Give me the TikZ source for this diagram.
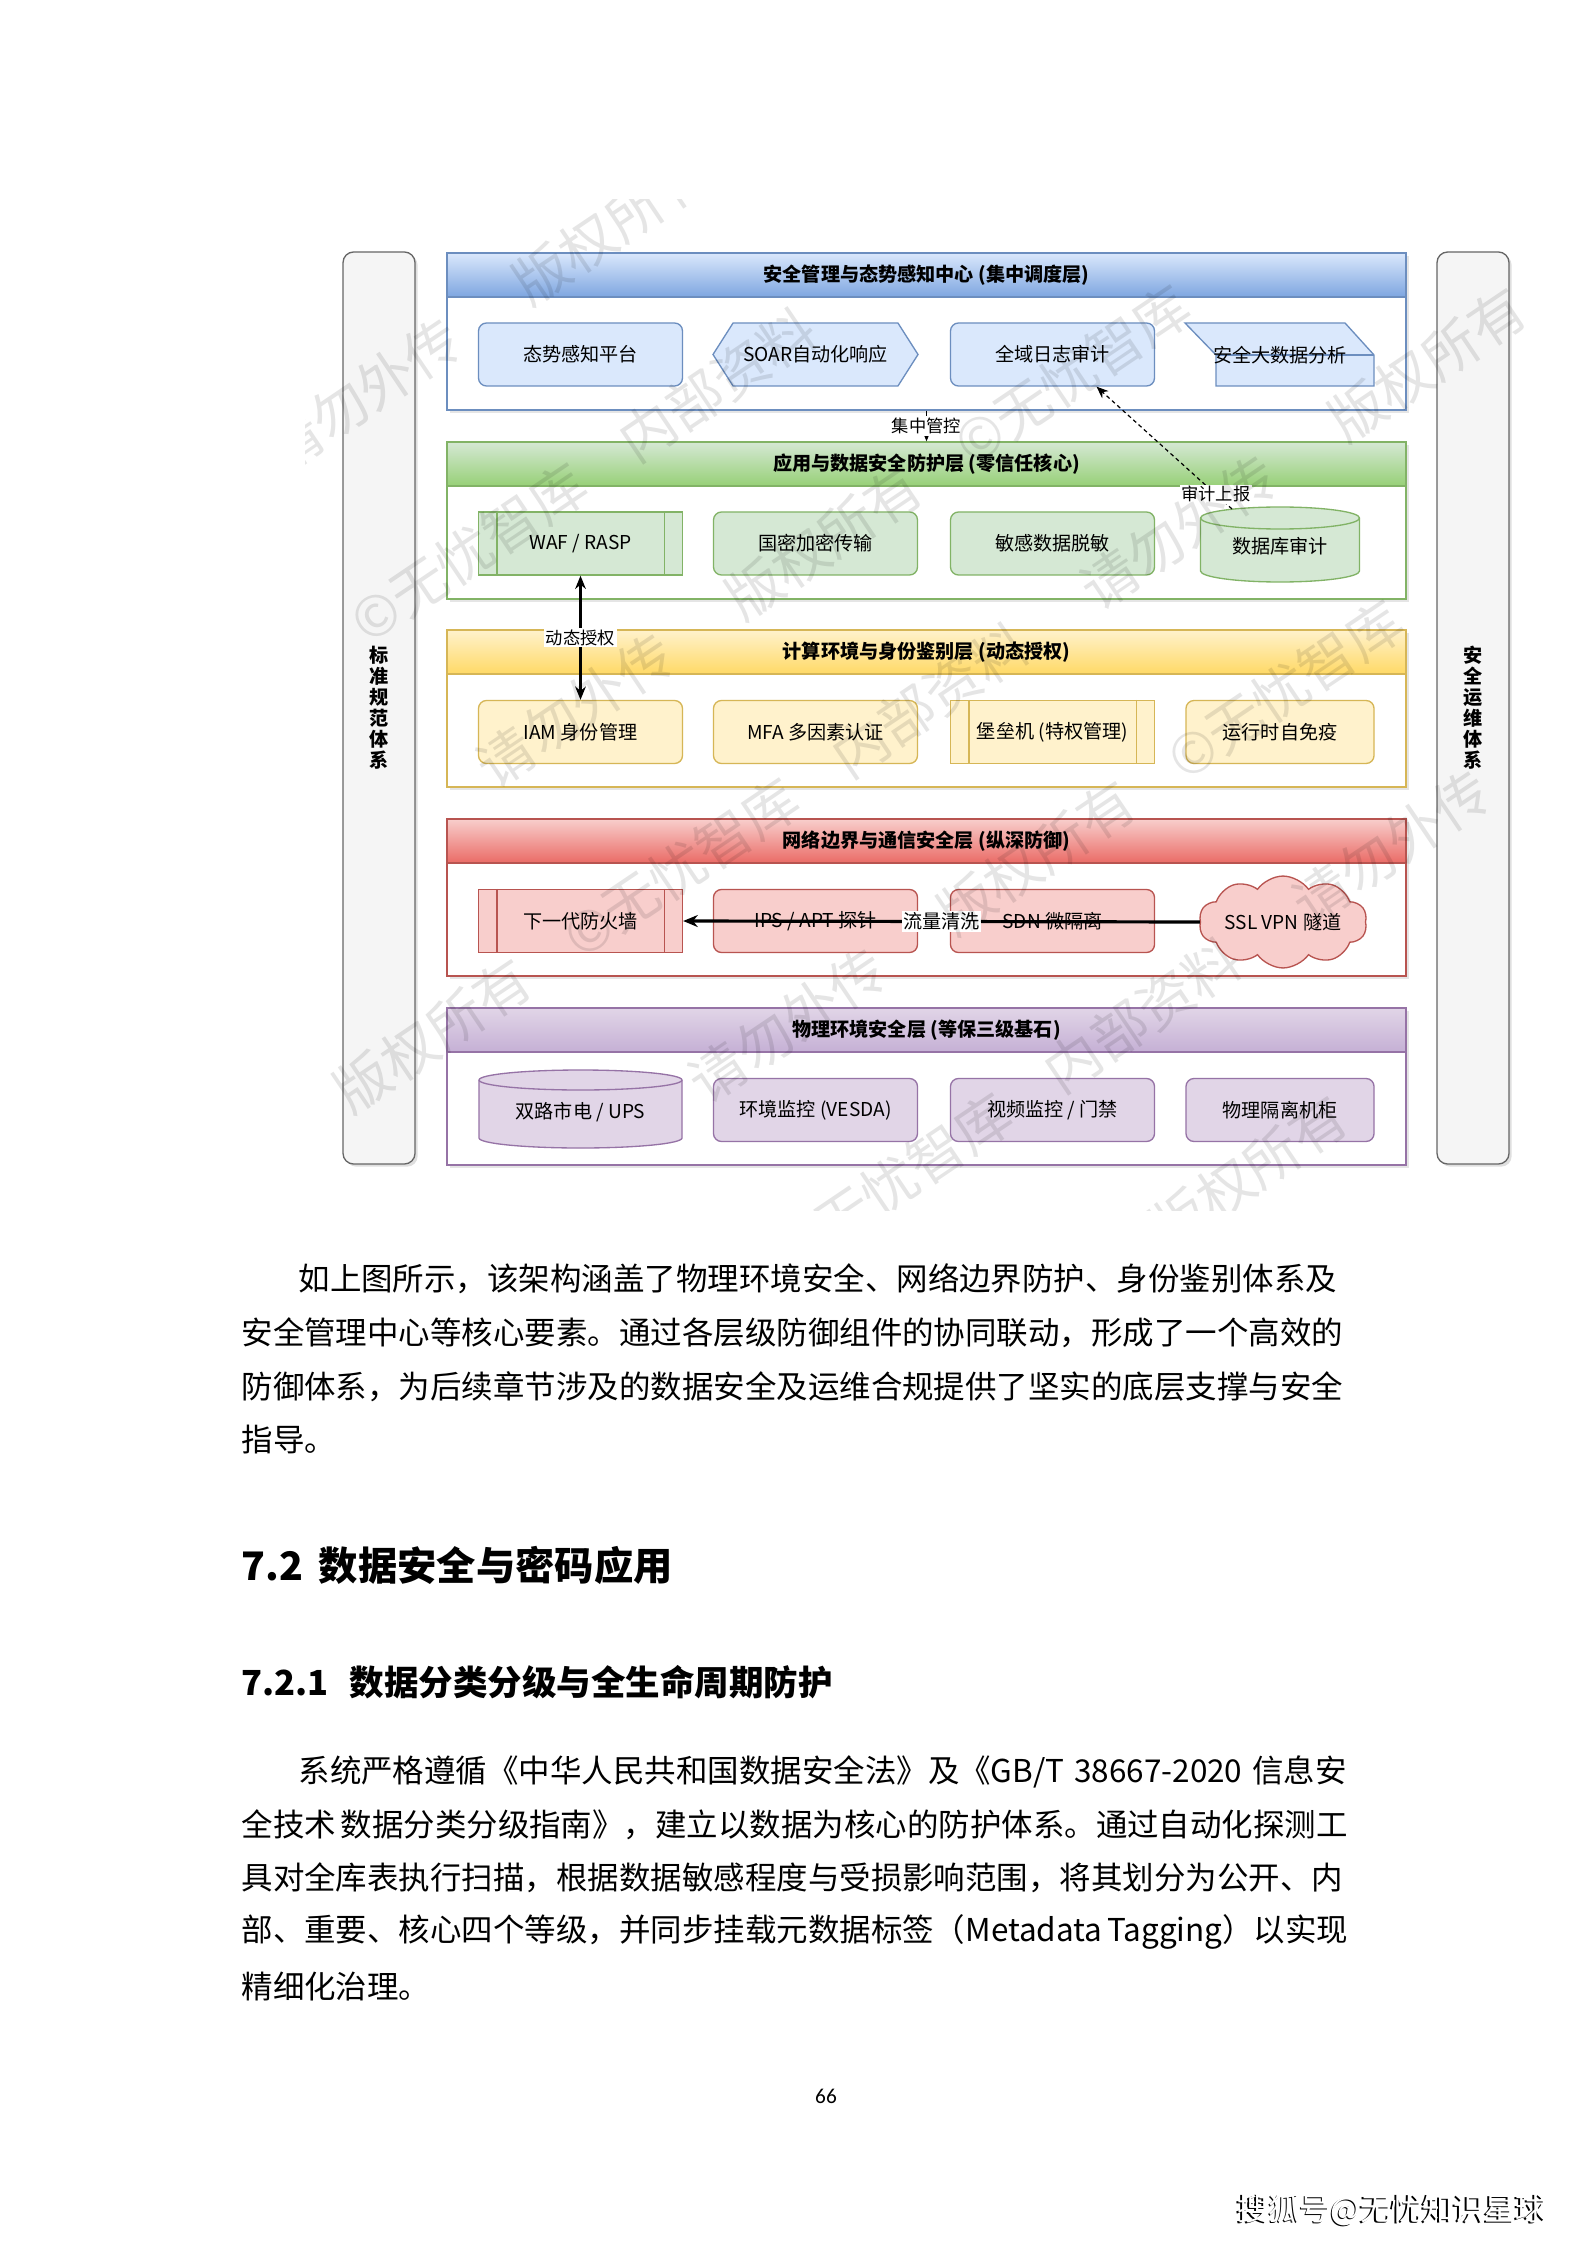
\documentclass[tikz,border=0pt]{standalone}
\usepackage{fontspec}
\setmainfont{Noto Sans CJK SC}
\newfontfamily\pagenofont{Carlito}
\usepackage{tikz}
\usetikzlibrary{arrows.meta, calc, positioning, shapes.symbols, shadows}
\XeTeXlinebreaklocale "zh"
\XeTeXlinebreakskip=0pt plus 3pt minus 0.4pt

% one pixel of the page
\newcommand\pxu{*0.3765pt}
\newcommand\boxfont{\fontsize{7.2}{8.6}\selectfont}
\newcommand\headfont{\fontsize{7.2}{8.6}\selectfont\bfseries}
\newcommand\tagfont{\fontsize{6.5}{7.6}\selectfont}
\newcommand\barfont{\fontsize{7.2}{7.9}\selectfont\bfseries}
\newcommand\bodyfont{\fontsize{11.85}{14}\selectfont}

\definecolor{blueFill}{HTML}{DAE8FC}
\definecolor{blueGrad}{HTML}{7EA6E0}
\definecolor{blueLine}{HTML}{6C8EBF}
\definecolor{greenFill}{HTML}{D5E8D4}
\definecolor{greenGrad}{HTML}{97D077}
\definecolor{greenLine}{HTML}{82B366}
\definecolor{yellowFill}{HTML}{FFF2CC}
\definecolor{yellowGrad}{HTML}{FFD966}
\definecolor{yellowLine}{HTML}{D6B656}
\definecolor{redFill}{HTML}{F8CECC}
\definecolor{redGrad}{HTML}{EA6B66}
\definecolor{redLine}{HTML}{B85450}
\definecolor{purpleFill}{HTML}{E1D5E7}
\definecolor{purpleGrad}{HTML}{C5B0D5}
\definecolor{purpleLine}{HTML}{9673A6}
\definecolor{barFill}{HTML}{F5F5F5}
\definecolor{barLine}{HTML}{666666}

\tikzset{
  layerbody/.style={draw=#1, fill=white, line width=0.5pt, inner sep=0pt,
    minimum width=959\pxu, minimum height=157\pxu,
    drop shadow={opacity=0.2, shadow xshift=1pt, shadow yshift=-1pt}},
  layerhead/.style n args={3}{top color=#1, bottom color=#2, draw=#3, line width=0.5pt,
    inner sep=0pt, minimum width=959\pxu, minimum height=44\pxu, font=\headfont},
  partbox/.style n args={2}{fill=#1, draw=#2, line width=0.5pt, inner sep=0pt,
    minimum width=204\pxu, minimum height=63\pxu, font=\boxfont},
  roundbox/.style n args={2}{partbox={#1}{#2}, rounded corners=3pt},
  textonly/.style={inner sep=0pt, font=\boxfont},
  sidebar/.style={fill=barFill, draw=barLine, line width=0.5pt, rounded corners=4pt,
    minimum width=72\pxu, minimum height=912\pxu, align=center, font=\barfont,
    drop shadow={opacity=0.25, shadow xshift=1pt, shadow yshift=-1pt}},
  edgetag/.style={fill=white, inner sep=0.6pt, font=\tagfont},
  watermark/.style={rotate=34, inner sep=0pt, text=black, opacity=0.1, font=\fontsize{21}{24}\selectfont}
}

% cylinder: centre x, top, bottom, x radius, y radius, fill, line
\newcommand\drawdrum[7]{%
  \draw[fill=#6, draw=#7, line width=0.5pt] (#1-#4,#2+#5) -- (#1-#4,#3-#5)
    arc[start angle=180, end angle=0, x radius=#4, y radius=#5] -- (#1+#4,#2+#5)
    arc[start angle=0, end angle=-180, x radius=#4, y radius=#5] -- cycle;
  \draw[draw=#7, line width=0.5pt] (#1-#4,#2+#5)
    arc[start angle=180, end angle=0, x radius=#4, y radius=#5];
}
% one justified line of body text
\newcommand\textline[4]{\node[anchor=west, inner sep=0pt, font=\bodyfont] (#1) at (#2) {\hbox to #3{#4}};}

\begin{document}
\begin{tikzpicture}[x=0.3765pt, y=-0.3765pt]
  \fill[white] (0,0) rectangle (1587,2245);
  \useasboundingbox (0,0) rectangle (1587,2245);

  % side bars
  \node[sidebar] (stdbar) at (379,708) {标\\准\\规\\范\\体\\系};
  \node[sidebar] (opsbar) at (1473,708) {安\\全\\运\\维\\体\\系};

  % layer frames
  \node[layerbody=blueLine]   (mgmt) at (926.5,331.5) {};
  \node[layerbody=greenLine]  (app)  at (926.5,520.5) {};
  \node[layerbody=yellowLine] (comp) at (926.5,708.5) {};
  \node[layerbody=redLine]    (net)  at (926.5,897.5) {};
  \node[layerbody=purpleLine] (phys) at (926.5,1086.5) {};

  % layer headers
  \node[layerhead={blueFill}{blueGrad}{blueLine}]       (mgmtHead) at (926.5,275)  {安全管理与态势感知中心 (集中调度层)};
  \node[layerhead={greenFill}{greenGrad}{greenLine}]    (appHead)  at (926.5,464)  {应用与数据安全防护层 (零信任核心)};
  \node[layerhead={yellowFill}{yellowGrad}{yellowLine}] (compHead) at (926.5,652)  {计算环境与身份鉴别层 (动态授权)};
  \node[layerhead={redFill}{redGrad}{redLine}]          (netHead)  at (926.5,841)  {网络边界与通信安全层 (纵深防御)};
  \node[layerhead={purpleFill}{purpleGrad}{purpleLine}] (physHead) at (926.5,1030) {物理环境安全层 (等保三级基石)};

  % management layer
  \node[roundbox={blueFill}{blueLine}] (situation) at (580.5,354.5) {态势感知平台};
  \node[partbox={blueFill}{blueLine}, signal, signal to=east and west, signal pointer angle=115,
        minimum width=205\pxu] (soar) at (815.5,354.5) {SOAR自动化响应};
  \node[roundbox={blueFill}{blueLine}] (logaudit) at (1052.5,354.5) {全域日志审计};
  \draw[fill=blueFill, draw=blueLine, line width=0.5pt]
    (1185,323) -- (1345,323) -- (1374,355) -- (1374,386) -- (1216,386) -- (1216,355) -- cycle;
  \draw[draw=blueLine, line width=0.5pt] (1216,355) -- (1374,355);
  \node[textonly] (bigdata) at (1280,355) {安全大数据分析};

  % application and data layer
  \node[partbox={greenFill}{greenLine}] (waf) at (580.5,543.5) {WAF / RASP};
  \draw[greenLine, line width=0.5pt] ([xshift=19\pxu]waf.north west) -- ([xshift=19\pxu]waf.south west);
  \draw[greenLine, line width=0.5pt] ([xshift=-19\pxu]waf.north east) -- ([xshift=-19\pxu]waf.south east);
  \node[roundbox={greenFill}{greenLine}] (smcrypto) at (815.5,543.5) {国密加密传输};
  \node[roundbox={greenFill}{greenLine}] (masking) at (1052.5,543.5) {敏感数据脱敏};
  \drawdrum{1280}{507}{582}{79.5}{11}{greenFill}{greenLine}
  \node[textonly] (dbaudit) at (1280,546) {数据库审计};

  % computing and identity layer
  \node[roundbox={yellowFill}{yellowLine}] (iam) at (580.5,732) {IAM 身份管理};
  \node[roundbox={yellowFill}{yellowLine}] (mfa) at (815.5,732) {MFA 多因素认证};
  \node[partbox={yellowFill}{yellowLine}] (bastion) at (1052.5,732) {堡垒机 (特权管理)};
  \draw[yellowLine, line width=0.5pt] ([xshift=19\pxu]bastion.north west) -- ([xshift=19\pxu]bastion.south west);
  \draw[yellowLine, line width=0.5pt] ([xshift=-19\pxu]bastion.north east) -- ([xshift=-19\pxu]bastion.south east);
  \node[roundbox={yellowFill}{yellowLine}, minimum width=188\pxu] (immune) at (1280,732) {运行时自免疫};

  % network boundary layer
  \node[partbox={redFill}{redLine}] (ngfw) at (580.5,921) {下一代防火墙};
  \draw[redLine, line width=0.5pt] ([xshift=19\pxu]ngfw.north west) -- ([xshift=19\pxu]ngfw.south west);
  \draw[redLine, line width=0.5pt] ([xshift=-19\pxu]ngfw.north east) -- ([xshift=-19\pxu]ngfw.south east);
  \node[roundbox={redFill}{redLine}] (ips) at (815.5,921) {IPS / APT 探针};
  \node[roundbox={redFill}{redLine}] (sdn) at (1052.5,921) {SDN 微隔离};
  \node[partbox={redFill}{redLine}, cloud, cloud puffs=10, cloud puff arc=110, aspect=2.4,
        minimum width=166\pxu, minimum height=69\pxu] (vpn) at (1283,922) {SSL VPN 隧道};

  % physical layer
  \drawdrum{580.5}{1070}{1148}{101.5}{10}{purpleFill}{purpleLine}
  \node[textonly] (ups) at (580.5,1112) {双路市电 / UPS};
  \node[roundbox={purpleFill}{purpleLine}] (vesda) at (815.5,1110) {环境监控 (VESDA)};
  \node[roundbox={purpleFill}{purpleLine}] (cctv) at (1052.5,1110) {视频监控 / 门禁};
  \node[roundbox={purpleFill}{purpleLine}, minimum width=188\pxu] (rack) at (1280,1110) {物理隔离机柜};

  % connectors
  \draw[line width=0.4pt, -{Stealth[length=3pt, width=2.4pt]}] (mgmt.south) -- node[edgetag]{集中管控} (app.north);
  \coordinate (dbtop) at (1232,509);
  \draw[line width=0.45pt, dash pattern=on 1.5pt off 1.2pt, -{Stealth[length=4.5pt, width=3.6pt]}]
    (dbtop) -- node[edgetag, pos=0.12]{审计上报} ($(logaudit.south)+(44,0)$);
  \draw[line width=0.9pt, {Stealth[length=5pt, width=4pt]}-{Stealth[length=5pt, width=4pt]}]
    (waf.south) -- node[edgetag]{动态授权} (iam.north);
  \draw[line width=1.2pt, -{Stealth[length=5.5pt, width=4.5pt]}]
    (vpn.west) -- node[edgetag, font=\boxfont]{流量清洗} (ngfw.east);

  % watermark over the figure
  \begin{scope}
    \clip (305,200) rectangle (1552,1210);
    \foreach \r in {-5,...,5}{
      \foreach \j in {-5,...,5}{
        \pgfmathsetmacro\cx{930+\j*300*0.829+\r*190*0.559}
        \pgfmathsetmacro\cy{700-\j*300*0.559+\r*190*0.829}
        \pgfmathtruncatemacro\inside{(\cx>330)&&(\cx<1450)&&(\cy>220)&&(\cy<1190)}
        \pgfmathtruncatemacro\w{mod(\j+2*\r+40,4)}
        \ifnum\inside=1
          \node[watermark] (wm\r\j) at (\cx,\cy)
            {\ifcase\w 内部资料\or 请勿外传\or 版权所有\or ©无忧智库\fi};
        \fi
      }
    }
  \end{scope}

  % body text
  \textline{pa}{298,1279}{394.6pt}{如上图所示，该架构涵盖了物理环境安全、网络边界防护、身份鉴别体系及}
  \textline{pb}{241,1333}{416pt}{安全管理中心等核心要素。通过各层级防御组件的协同联动，形成了一个高效的}
  \textline{pc}{241,1386.5}{416pt}{防御体系，为后续章节涉及的数据安全及运维合规提供了坚实的底层支撑与安全}
  \node[anchor=west, inner sep=0pt, font=\bodyfont] (pd) at (241,1440) {指导。};

  \node[anchor=west, inner sep=0pt, font=\fontsize{14.8}{17}\selectfont\bfseries] (sec) at (241,1565)
    {7.2\hspace{0.4em}数据安全与密码应用};
  \node[anchor=west, inner sep=0pt, font=\fontsize{13}{15}\selectfont\bfseries] (subsec) at (241,1682)
    {7.2.1\hspace{0.6em}数据分类分级与全生命周期防护};

  \textline{qa}{298,1772}{394.6pt}{系统严格遵循《中华人民共和国数据安全法》及《GB/T 38667-2020 信息安}
  \textline{qb}{241,1825}{416pt}{全技术 数据分类分级指南》，建立以数据为核心的防护体系。通过自动化探测工}
  \textline{qc}{241,1878}{416pt}{具对全库表执行扫描，根据数据敏感程度与受损影响范围，将其划分为公开、内}
  \textline{qd}{241,1932}{416pt}{部、重要、核心四个等级，并同步挂载元数据标签（Metadata Tagging）以实现}
  \node[anchor=west, inner sep=0pt, font=\bodyfont] (qe) at (241,1986) {精细化治理。};

  % page number and platform mark
  \node[font=\pagenofont\fontsize{8}{9}\selectfont] (pageno) at (826,2096) {66};
  \node[text=black, font=\fontsize{11.7}{13}\selectfont] (markshadow) at (1390.5,2211.5) {搜狐号@无忧知识星球};
  \node[text=white, font=\fontsize{11.7}{13}\selectfont] (mark) at (1392,2210) {搜狐号@无忧知识星球};
\end{tikzpicture}
\end{document}
